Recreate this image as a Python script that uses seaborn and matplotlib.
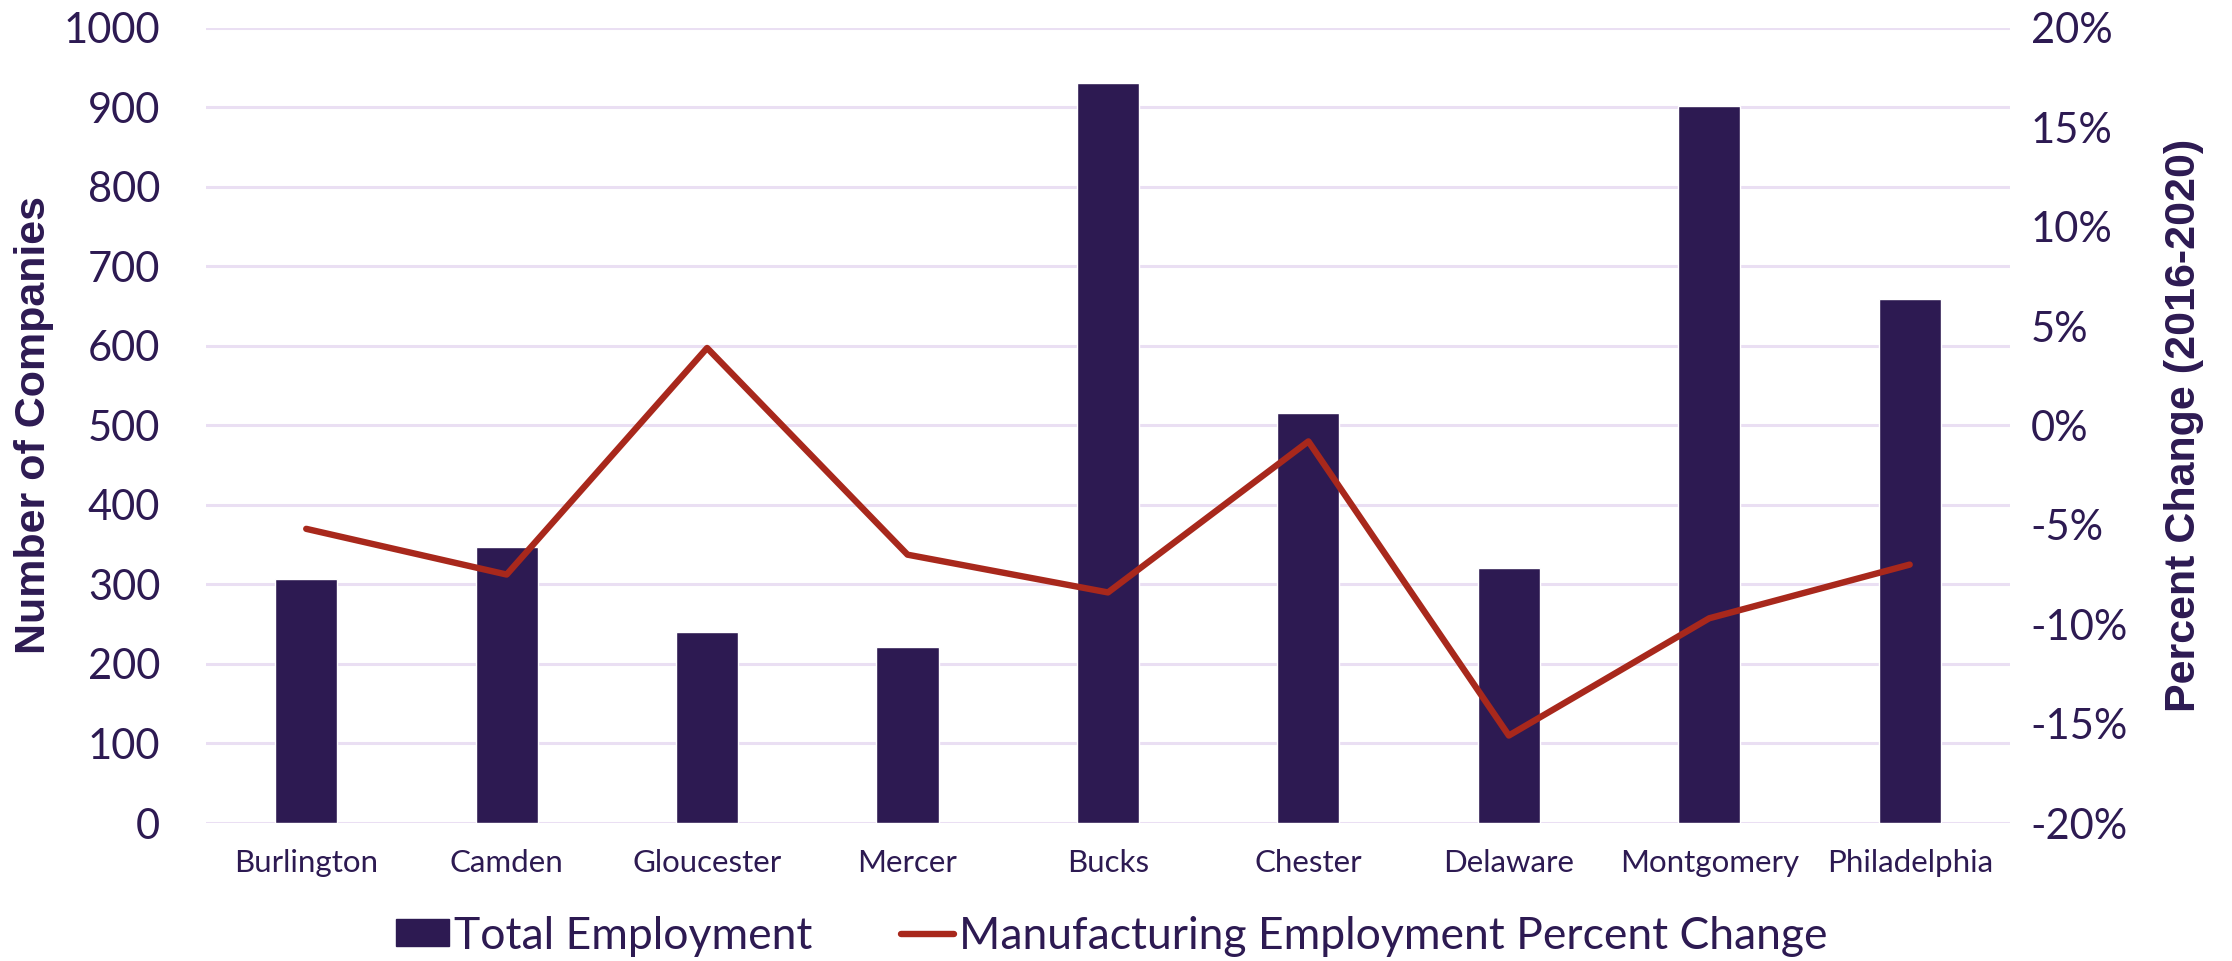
import numpy as np
import pandas as pd
import matplotlib
matplotlib.use("Agg")
import matplotlib.pyplot as plt
from matplotlib.patches import Patch
from matplotlib.lines import Line2D
from matplotlib.ticker import FuncFormatter, MultipleLocator
import seaborn as sns

counties = ["Burlington", "Camden", "Gloucester", "Mercer", "Bucks",
            "Chester", "Delaware", "Montgomery", "Philadelphia"]
companies = [307, 347, 240, 222, 931, 516, 321, 902, 659]
pct_change = [-5.2, -7.5, 3.9, -6.5, -8.4, -0.8, -15.6, -9.7, -7.0]

PURPLE = "#2d1a52"
RED = "#a8281c"
GRID = "#eadff3"

sns.set_theme(style="white")
plt.rcParams["font.family"] = ["Lato", "DejaVu Sans"]
plt.rcParams["text.color"] = PURPLE

df = pd.DataFrame({"county": counties, "companies": companies,
                   "pct": pct_change, "pos": np.arange(len(counties))})

fig = plt.figure(figsize=(22.32, 9.61), dpi=100)
ax = fig.add_axes([0.0923, 0.1436, 0.8082, 0.8273])

sns.barplot(data=df, x="county", y="companies", color=PURPLE, width=0.31,
            saturation=1, ax=ax, zorder=2)
ax.set_xlim(-0.5, len(counties) - 0.5)
ax.set_ylim(0, 1000)
ax.yaxis.set_major_locator(MultipleLocator(100))
ax.grid(axis="y", color=GRID, linewidth=2.2, zorder=0)
ax.grid(axis="x", visible=False)
ax.set_axisbelow(True)
for s in ax.spines.values():
    s.set_visible(False)
ax.tick_params(axis="y", length=0, pad=33, labelsize=30, labelcolor=PURPLE)
ax.tick_params(axis="x", length=0, pad=19, labelsize=22.5, labelcolor=PURPLE)
ax.set_xlabel("")
ax.set_ylabel("Number of Companies", fontsize=31, fontweight="bold",
              color=PURPLE, family=["Liberation Sans", "DejaVu Sans"],
              labelpad=7)

ax2 = ax.twinx()
sns.lineplot(data=df, x="pos", y="pct", color=RED, linewidth=4.6, ax=ax2,
             zorder=3)
ax2.set_ylim(-20, 20)
ax2.yaxis.set_major_locator(MultipleLocator(5))
ax2.yaxis.set_major_formatter(FuncFormatter(lambda v, _: f"{v:.0f}%"))
ax2.grid(False)
for s in ax2.spines.values():
    s.set_visible(False)
ax2.tick_params(axis="y", length=0, pad=15, labelsize=30, labelcolor=PURPLE)
ax2.set_xlabel("")
ax2.set_ylabel("Percent Change (2016-2020)", fontsize=31, fontweight="bold",
               color=PURPLE, family=["Liberation Sans", "DejaVu Sans"],
               labelpad=26)
ax2.set_xlim(-0.5, len(counties) - 0.5)

handles = [Patch(facecolor=PURPLE, edgecolor=PURPLE),
           Line2D([0], [0], color=RED, linewidth=4.6)]
fig.legend(handles, ["Total Employment", "Manufacturing Employment Percent Change"],
           loc="center", bbox_to_anchor=(0.498, 0.026), ncol=2, frameon=False,
           fontsize=32, handlelength=1.2, handleheight=0.55, handletextpad=0.1,
           columnspacing=2.0, labelcolor=PURPLE)

fig.savefig("out.png", dpi=100)
